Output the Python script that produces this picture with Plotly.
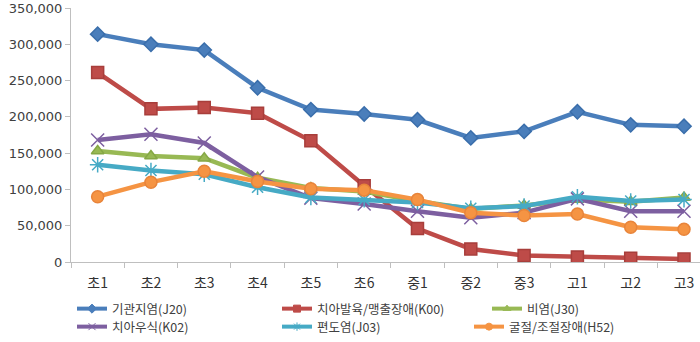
import plotly.graph_objects as go

categories = ['초1', '초2', '초3', '초4', '초5', '초6', '중1', '중2', '중3', '고1', '고2', '고3']

bronchitis_j20 = [314000, 300000, 292000, 240000, 210000, 204000, 196000, 171000, 180000, 207000, 189000, 187000]
tooth_dev_k00 = [261000, 211000, 213000, 205000, 167000, 105000, 46000, 18000, 9000, 7000, 5000, 4000]
rhinitis_j30 = [153000, 146000, 143000, 116000, 102000, 97000, 84000, 73000, 78000, 86000, 83000, 89000]
caries_k02 = [168000, 176000, 164000, 117000, 88000, 80000, 70000, 61000, 68000, 87000, 70000, 70000]
tonsillitis_j03 = [134000, 126000, 121000, 103000, 89000, 86000, 82000, 74000, 77000, 90000, 84000, 86000]
refraction_h52 = [90000, 110000, 125000, 111000, 101000, 99000, 86000, 68000, 64000, 66000, 48000, 45000]

names = ['기관지염(J20)', '치아발육/맹출장애(K00)', '비염(J30)', '치아우식(K02)', '편도염(J03)', '굴절/조절장애(H52)']
series = [bronchitis_j20, tooth_dev_k00, rhinitis_j30, caries_k02, tonsillitis_j03, refraction_h52]
colors = ['#4A7EBB', '#BE4B48', '#98B954', '#7D5FA0', '#46AAC5', '#F59443']
symbols = ['diamond', 'square', 'triangle-up', 'x-thin-open', 'asterisk-open', 'circle']
sizes = [11, 12, 11, 13, 13, 12]
mline = ['#3A6EAB', '#A83E3B', '#86A845', '#B9A8D6', '#9ED6E6', '#E8843A']

# legend positions (container px): x of legend left, y of row center
leg_pos = [(72, 309), (277, 309), (487, 309), (72, 327), (277, 327), (469, 327)]

W, H = 700, 342
fig = go.Figure()
layout_legends = {}
for i, (nm, vals) in enumerate(zip(names, series)):
    fig.add_trace(go.Scatter(
        x=categories, y=vals, name=nm, mode='lines+markers',
        line=dict(color=colors[i], width=4.5),
        marker=dict(symbol=symbols[i], size=sizes[i], color=colors[i],
                    line=dict(color=mline[i], width=1.5)),
        showlegend=False,
    ))

for i, nm in enumerate(names):
    lname = 'legend' if i == 0 else f'legend{i + 1}'
    # legend key: same style, smaller marker (as in the reference key)
    fig.add_trace(go.Scatter(
        x=[None], y=[None], name=nm, mode='lines+markers',
        line=dict(color=colors[i], width=4),
        marker=dict(symbol=symbols[i], size=7, color=colors[i],
                    line=dict(color=colors[i], width=1)),
        legend=lname, showlegend=True,
    ))
    lx, ly = leg_pos[i]
    layout_legends[lname] = dict(
        xref='container', yref='container',
        x=lx / W, y=1 - ly / H, xanchor='left', yanchor='middle',
        orientation='h', bgcolor='rgba(0,0,0,0)',
        font=dict(family='Noto Sans CJK KR', size=12.5, color='#404040'),
        itemwidth=30,
    )

fig.update_layout(
    width=W, height=H,
    margin=dict(l=71, r=0, t=8, b=80),
    paper_bgcolor='white', plot_bgcolor='white',
    showlegend=True,
    **layout_legends,
    xaxis=dict(
        type='category', range=[-0.5, 11.3],
        showline=True, linecolor='#BFBFBF', linewidth=1,
        ticks='outside', tickson='boundaries', ticklen=5, tickcolor='#BFBFBF',
        showgrid=False, zeroline=False, ticklabelstandoff=8,
        tickfont=dict(family='Noto Sans CJK KR', size=14, color='#333333'),
    ),
    yaxis=dict(
        range=[0, 350000], dtick=50000, tickformat=',',
        showline=True, linecolor='#BFBFBF', linewidth=1,
        ticks='outside', ticklen=5, tickcolor='#BFBFBF',
        showgrid=False, zeroline=False,
        tickfont=dict(family='DejaVu Sans', size=13, color='#404040'),
    ),
)

fig.write_html('out.html')
